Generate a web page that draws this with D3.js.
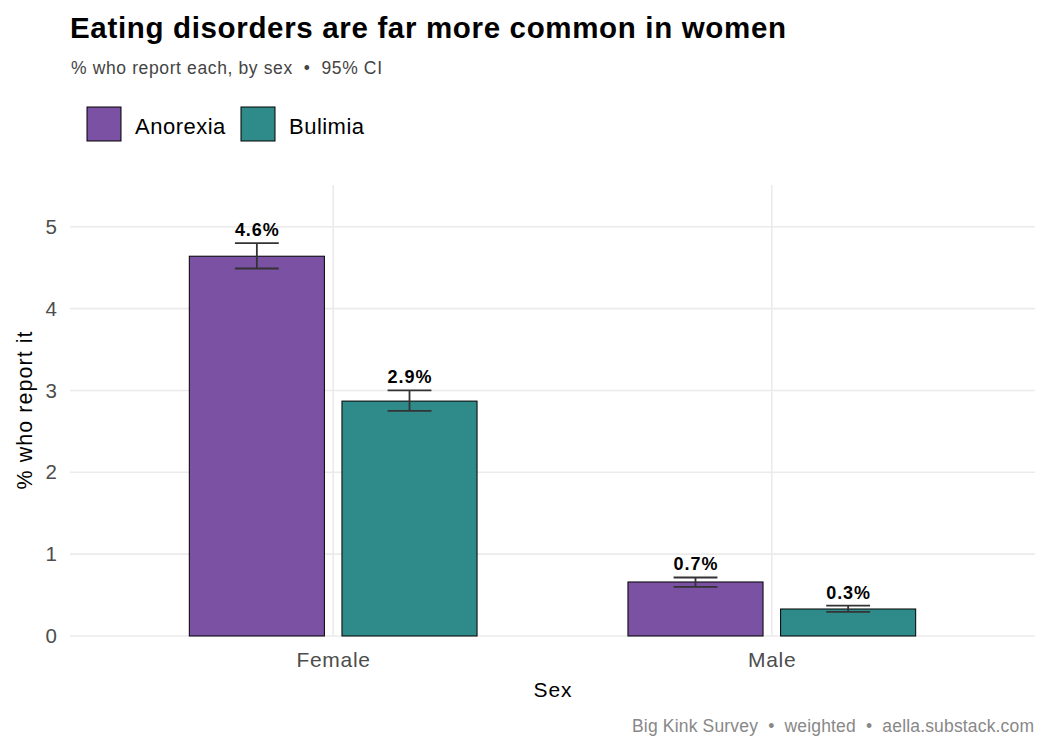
<!DOCTYPE html>
<html>
<head>
<meta charset="utf-8">
<script src="https://cdn.jsdelivr.net/npm/d3@7"></script>
<style>
  body { margin: 0; background: #fff; }
  text { font-family: "Liberation Sans", Arial, sans-serif; white-space: pre; }
</style>
</head>
<body>
<div id="chart"></div>
<script>
// data
var sexes = ["Female", "Male"];
var disorders = ["Anorexia", "Bulimia"];
var pct = { Female: [4.64, 2.87], Male: [0.66, 0.33] };
var ciLow = { Female: [4.49, 2.75], Male: [0.60, 0.295] };
var ciHigh = { Female: [4.80, 3.00], Male: [0.715, 0.37] };
var labels = { Female: ["4.6%", "2.9%"], Male: ["0.7%", "0.3%"] };
var yTicks = [0, 1, 2, 3, 4, 5];
var colors = ["#7b51a3", "#2e8b8a"];

var W = 1050, H = 750;
var margin = {top: 185, right: 15, bottom: 114, left: 70};
var width = W - margin.left - margin.right,
    height = H - margin.top - margin.bottom;

// the reference text renders a bit wider than Liberation Sans, so stretch spacing
function stretch(k) {
  return function(sel) {
    sel.each(function() {
      var w = this.getComputedTextLength();
      d3.select(this).attr("textLength", w * k).attr("lengthAdjust", "spacing");
    });
  };
}

var svg = d3.select("#chart").append("svg")
    .attr("width", W).attr("height", H);

// rows for the bars
var rows = [];
sexes.forEach(function(s) {
  disorders.forEach(function(d, i) {
    rows.push({sex: s, dis: d, i: i, v: pct[s][i], lo: ciLow[s][i], hi: ciHigh[s][i], lab: labels[s][i]});
  });
});

// ggplot-like discrete axis: positions 1..2 expanded by 0.6
var x = d3.scaleLinear().domain([0.4, 2.6]).range([0, width]);
var y = d3.scaleLinear().domain([0, 5.51]).range([height, 0]);
var barW = 0.308, dodge = 0.174, errW = 0.1;
function cx(d) { return x(sexes.indexOf(d.sex) + 1) + (d.i === 0 ? -1 : 1) * (x(dodge) - x(0)); }

var g = svg.append("g").attr("transform", "translate(" + margin.left + "," + margin.top + ")");

// grid
g.selectAll(".hgrid").data(yTicks).enter().append("line")
  .attr("x1", 0).attr("x2", width)
  .attr("y1", function(d) { return y(d); }).attr("y2", function(d) { return y(d); })
  .attr("stroke", "#ebebeb").attr("stroke-width", 1.6);
g.selectAll(".vgrid").data(sexes).enter().append("line")
  .attr("y1", 0).attr("y2", height)
  .attr("x1", function(d, i) { return x(i + 1); }).attr("x2", function(d, i) { return x(i + 1); })
  .attr("stroke", "#ebebeb").attr("stroke-width", 1.6);

// bars
var bw = x(barW) - x(0);
g.selectAll(".bar").data(rows).enter().append("rect")
  .attr("x", function(d) { return cx(d) - bw / 2; })
  .attr("width", bw)
  .attr("y", function(d) { return y(d.v); })
  .attr("height", function(d) { return y(0) - y(d.v); })
  .attr("fill", function(d) { return colors[d.i]; })
  .attr("stroke", "#000").attr("stroke-width", 1);

// error bars
var ew = x(errW) - x(0);
var eb = g.selectAll(".err").data(rows).enter().append("g")
  .attr("stroke", "#333").attr("stroke-width", 1.8);
eb.append("line")
  .attr("x1", cx).attr("x2", cx)
  .attr("y1", function(d) { return y(d.lo); }).attr("y2", function(d) { return y(d.hi); });
eb.append("line")
  .attr("x1", function(d) { return cx(d) - ew / 2; }).attr("x2", function(d) { return cx(d) + ew / 2; })
  .attr("y1", function(d) { return y(d.hi); }).attr("y2", function(d) { return y(d.hi); });
eb.append("line")
  .attr("x1", function(d) { return cx(d) - ew / 2; }).attr("x2", function(d) { return cx(d) + ew / 2; })
  .attr("y1", function(d) { return y(d.lo); }).attr("y2", function(d) { return y(d.lo); });

// value labels
g.selectAll(".lab").data(rows).enter().append("text")
  .attr("x", cx)
  .attr("y", function(d) { return y(d.hi) - 7; })
  .attr("text-anchor", "middle")
  .attr("font-size", 18).attr("font-weight", "bold").attr("fill", "#000")
  .text(function(d) { return d.lab; })
  .call(stretch(1.07));

// y tick labels
g.selectAll(".ytick").data(yTicks).enter().append("text")
  .attr("x", -13).attr("y", function(d) { return y(d); })
  .attr("dy", "0.35em").attr("text-anchor", "end")
  .attr("font-size", 20.5).attr("fill", "#4d4d4d")
  .text(function(d) { return d; });

// x tick labels
g.selectAll(".xtick").data(sexes).enter().append("text")
  .attr("x", function(d, i) { return x(i + 1); })
  .attr("y", height + 31)
  .attr("text-anchor", "middle")
  .attr("font-size", 21).attr("fill", "#4d4d4d")
  .text(function(d) { return d; })
  .call(stretch(1.05));

// axis titles
g.append("text")
  .attr("x", width / 2).attr("y", height + 61)
  .attr("text-anchor", "middle").attr("font-size", 21).attr("fill", "#000")
  .text("Sex")
  .call(stretch(1.05));
g.append("text")
  .attr("transform", "translate(" + (-38) + "," + (height / 2) + ") rotate(-90)")
  .attr("text-anchor", "middle").attr("font-size", 21.5).attr("fill", "#000")
  .text("% who report it")
  .attr("textLength", 158).attr("lengthAdjust", "spacing");

// title, subtitle
svg.append("text").attr("x", 70).attr("y", 38)
  .attr("font-size", 29.5).attr("font-weight", "bold").attr("fill", "#000")
  .text("Eating disorders are far more common in women")
  .attr("textLength", 716).attr("lengthAdjust", "spacing");
svg.append("text").attr("x", 71).attr("y", 74)
  .attr("font-size", 17.5).attr("fill", "#444")
  .text("% who report each, by sex  \u2022  95% CI")
  .attr("textLength", 311).attr("lengthAdjust", "spacing");

// legend
var leg = svg.selectAll(".leg").data(disorders).enter().append("g")
  .attr("transform", function(d, i) { return "translate(" + (87 + i * 154) + ",107)"; });
leg.append("rect").attr("width", 34).attr("height", 34)
  .attr("fill", function(d, i) { return colors[i]; })
  .attr("stroke", "#000").attr("stroke-width", 1);
leg.append("text").attr("x", 48).attr("y", 19).attr("dy", "0.35em")
  .attr("font-size", 22).attr("fill", "#000")
  .text(function(d) { return d; })
  .call(stretch(1.04));

// caption
svg.append("text").attr("x", 1034).attr("y", 732)
  .attr("text-anchor", "end").attr("font-size", 17.5).attr("fill", "#888")
  .text("Big Kink Survey  \u2022  weighted  \u2022  aella.substack.com")
  .attr("textLength", 402).attr("lengthAdjust", "spacing");
</script>
</body>
</html>
